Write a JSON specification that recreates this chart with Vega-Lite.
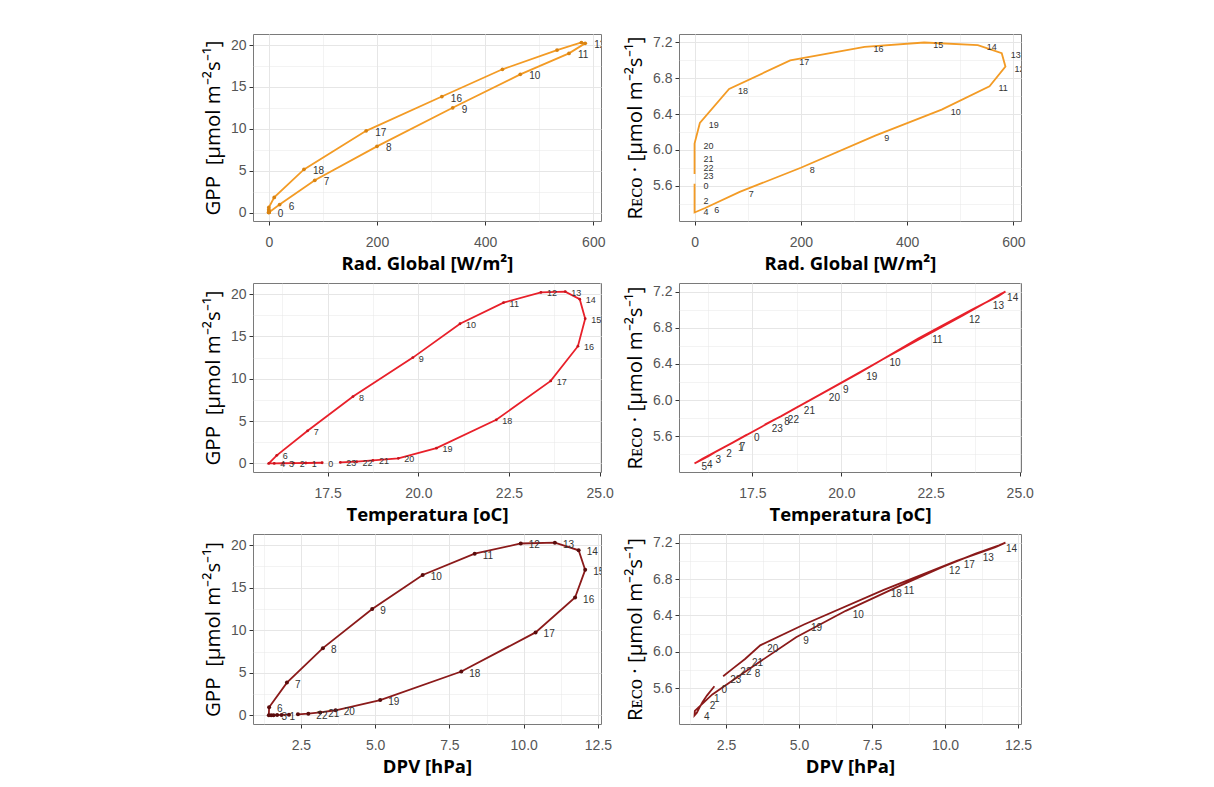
{
  "$schema": "https://vega.github.io/schema/vega-lite/v6.json",
  "padding": {"left": 202, "top": 33, "right": 5, "bottom": 5},
  "background": "white",
  "datasets": {
    "d": [
      {"hour": 0, "rad": 0, "temp": 17.35, "dpv": 2.10, "gpp": 0.08, "reco": 5.62},
      {"hour": 1, "rad": 0, "temp": 16.90, "dpv": 1.85, "gpp": 0.05, "reco": 5.52},
      {"hour": 2, "rad": 0, "temp": 16.57, "dpv": 1.70, "gpp": 0.03, "reco": 5.45},
      {"hour": 3, "rad": 0, "temp": 16.27, "dpv": 1.58, "gpp": 0.02, "reco": 5.38},
      {"hour": 4, "rad": 0, "temp": 16.03, "dpv": 1.50, "gpp": 0.00, "reco": 5.33},
      {"hour": 5, "rad": 0, "temp": 15.88, "dpv": 1.42, "gpp": 0.00, "reco": 5.30},
      {"hour": 6, "rad": 20, "temp": 16.10, "dpv": 1.43, "gpp": 0.95, "reco": 5.35},
      {"hour": 7, "rad": 85, "temp": 16.95, "dpv": 2.03, "gpp": 3.85, "reco": 5.53},
      {"hour": 8, "rad": 200, "temp": 18.20, "dpv": 3.24, "gpp": 7.90, "reco": 5.80},
      {"hour": 9, "rad": 340, "temp": 19.85, "dpv": 4.90, "gpp": 12.50, "reco": 6.16},
      {"hour": 10, "rad": 465, "temp": 21.15, "dpv": 6.60, "gpp": 16.50, "reco": 6.45},
      {"hour": 11, "rad": 555, "temp": 22.35, "dpv": 8.35, "gpp": 19.00, "reco": 6.71},
      {"hour": 12, "rad": 585, "temp": 23.38, "dpv": 9.90, "gpp": 20.20, "reco": 6.93},
      {"hour": 13, "rad": 578, "temp": 24.05, "dpv": 11.05, "gpp": 20.30, "reco": 7.08},
      {"hour": 14, "rad": 533, "temp": 24.45, "dpv": 11.85, "gpp": 19.40, "reco": 7.17},
      {"hour": 15, "rad": 432, "temp": 24.60, "dpv": 12.07, "gpp": 17.10, "reco": 7.20},
      {"hour": 16, "rad": 320, "temp": 24.40, "dpv": 11.73, "gpp": 13.85, "reco": 7.15},
      {"hour": 17, "rad": 180, "temp": 23.65, "dpv": 10.40, "gpp": 9.75, "reco": 7.00},
      {"hour": 18, "rad": 65, "temp": 22.15, "dpv": 7.90, "gpp": 5.15, "reco": 6.68},
      {"hour": 19, "rad": 10, "temp": 20.50, "dpv": 5.17, "gpp": 1.80, "reco": 6.30},
      {"hour": 20, "rad": 0, "temp": 19.45, "dpv": 3.67, "gpp": 0.60, "reco": 6.07},
      {"hour": 21, "rad": 0, "temp": 18.75, "dpv": 3.15, "gpp": 0.35, "reco": 5.92},
      {"hour": 22, "rad": 0, "temp": 18.30, "dpv": 2.75, "gpp": 0.20, "reco": 5.82},
      {"hour": 23, "rad": 0, "temp": 17.85, "dpv": 2.40, "gpp": 0.12, "reco": 5.73}
    ]
  },
  "data": {"name": "d"},
  "columns": 2,
  "align": "each",
  "bounds": "flush",
  "spacing": {"row": 62, "column": 78},
  "concat": [
    {
      "width": 348, "height": 187,
      "encoding": {
        "x": {"field": "rad", "type": "quantitative", "scale": {"domain": [-29.25, 614.25], "nice": false, "zero": false},
          "axis": {"title": "Rad. Global [W/m²]", "values": [0, 100, 200, 300, 400, 500, 600],
            "labelExpr": "datum.value % 200 == 0 ? datum.label : ''",
            "tickOpacity": {"condition": {"test": "datum.value % 200 != 0", "value": 0}, "value": 1},
            "gridWidth": {"condition": {"test": "datum.value % 200 != 0", "value": 0.5}, "value": 1}}},
        "y": {"field": "gpp", "type": "quantitative", "scale": {"domain": [-1.015, 21.315], "nice": false, "zero": false},
          "axis": {"title": "GPP\u00a0\u00a0[μmol m⁻²s⁻¹]", "values": [0, 2.5, 5, 7.5, 10, 12.5, 15, 17.5, 20],
            "labelExpr": "datum.value % 5 == 0 ? datum.label : ''",
            "tickOpacity": {"condition": {"test": "datum.value % 5 != 0", "value": 0}, "value": 1},
            "gridWidth": {"condition": {"test": "datum.value % 5 != 0", "value": 0.5}, "value": 1}}}
      },
      "layer": [
        {"mark": {"type": "line", "color": "#F39B25", "strokeWidth": 1.8, "clip": true}, "encoding": {"order": {"field": "hour"}}},
        {"mark": {"type": "circle", "color": "#D98311", "size": 14, "opacity": 1}, "encoding": {}},
        {"transform": [{"filter": {"field": "hour", "oneOf": [0, 6, 7, 8, 9, 10, 11, 12, 16, 17, 18]}}],
          "mark": {"type": "text", "align": "left", "baseline": "middle", "dx": 9, "dy": 2, "fontSize": 10, "font": "Liberation Sans", "color": "#333333", "clip": true},
          "encoding": {"text": {"field": "hour"}}}
      ]
    },
    {
      "width": 342, "height": 187,
      "encoding": {
        "x": {"field": "rad", "type": "quantitative", "scale": {"domain": [-29.25, 614.25], "nice": false, "zero": false},
          "axis": {"title": "Rad. Global [W/m²]", "values": [0, 100, 200, 300, 400, 500, 600],
            "labelExpr": "datum.value % 200 == 0 ? datum.label : ''",
            "tickOpacity": {"condition": {"test": "datum.value % 200 != 0", "value": 0}, "value": 1},
            "gridWidth": {"condition": {"test": "datum.value % 200 != 0", "value": 0.5}, "value": 1}}},
        "y": {"field": "reco", "type": "quantitative", "scale": {"domain": [5.205, 7.295], "nice": false, "zero": false},
          "axis": {"title": "Rᴇᴄᴏ · [μmol m⁻²s⁻¹]", "format": ".1f", "values": [5.4, 5.6, 5.8, 6.0, 6.2, 6.4, 6.6, 6.8, 7.0, 7.2],
            "labelExpr": "indexof([5.4, 5.8, 6.2, 6.6, 7], datum.value) >= 0 ? '' : datum.label",
            "tickOpacity": {"condition": {"test": "indexof([5.4, 5.8, 6.2, 6.6, 7], datum.value) >= 0", "value": 0}, "value": 1},
            "gridWidth": {"condition": {"test": "indexof([5.4, 5.8, 6.2, 6.6, 7], datum.value) >= 0", "value": 0.5}, "value": 1}}}
      },
      "layer": [
        {"mark": {"type": "line", "color": "#F39B25", "strokeWidth": 1.8, "clip": true}, "encoding": {"order": {"field": "hour"}}},
        {"transform": [{"filter": {"field": "hour", "oneOf": [0, 2, 4, 6, 7, 8, 9, 10, 11, 12, 13, 14, 15, 16, 17, 18, 19, 20, 21, 22, 23]}}],
          "mark": {"type": "text", "align": "left", "baseline": "middle", "dx": 9, "dy": 2, "fontSize": 9, "font": "Liberation Sans", "color": "#333333", "clip": true},
          "encoding": {"text": {"field": "hour"}}}
      ]
    },
    {
      "width": 348, "height": 189,
      "encoding": {
        "x": {"field": "temp", "type": "quantitative", "scale": {"domain": [15.444, 25.036], "nice": false, "zero": false},
          "axis": {"title": "Temperatura [oC]", "format": ".1f", "values": [16.25, 17.5, 18.75, 20, 21.25, 22.5, 23.75, 25],
            "labelExpr": "datum.value % 2.5 == 0 ? datum.label : ''",
            "tickOpacity": {"condition": {"test": "datum.value % 2.5 != 0", "value": 0}, "value": 1},
            "gridWidth": {"condition": {"test": "datum.value % 2.5 != 0", "value": 0.5}, "value": 1}}},
        "y": {"field": "gpp", "type": "quantitative", "scale": {"domain": [-1.015, 21.315], "nice": false, "zero": false},
          "axis": {"title": "GPP\u00a0\u00a0[μmol m⁻²s⁻¹]", "values": [0, 2.5, 5, 7.5, 10, 12.5, 15, 17.5, 20],
            "labelExpr": "datum.value % 5 == 0 ? datum.label : ''",
            "tickOpacity": {"condition": {"test": "datum.value % 5 != 0", "value": 0}, "value": 1},
            "gridWidth": {"condition": {"test": "datum.value % 5 != 0", "value": 0.5}, "value": 1}}}
      },
      "layer": [
        {"mark": {"type": "line", "color": "#E8202A", "strokeWidth": 1.8, "clip": true}, "encoding": {"order": {"field": "hour"}}},
        {"mark": {"type": "circle", "color": "#C8141C", "size": 8, "opacity": 1}, "encoding": {}},
        {"transform": [{"filter": {"field": "hour", "oneOf": [0, 1, 2, 3, 4, 6, 7, 8, 9, 10, 11, 12, 13, 14, 15, 16, 17, 18, 19, 20, 21, 22, 23]}}],
          "mark": {"type": "text", "align": "left", "baseline": "middle", "dx": 6, "dy": 1, "fontSize": 9, "font": "Liberation Sans", "color": "#333333", "clip": true},
          "encoding": {"text": {"field": "hour"}}}
      ]
    },
    {
      "width": 342, "height": 189,
      "encoding": {
        "x": {"field": "temp", "type": "quantitative", "scale": {"domain": [15.444, 25.036], "nice": false, "zero": false},
          "axis": {"title": "Temperatura [oC]", "format": ".1f", "values": [16.25, 17.5, 18.75, 20, 21.25, 22.5, 23.75, 25],
            "labelExpr": "datum.value % 2.5 == 0 ? datum.label : ''",
            "tickOpacity": {"condition": {"test": "datum.value % 2.5 != 0", "value": 0}, "value": 1},
            "gridWidth": {"condition": {"test": "datum.value % 2.5 != 0", "value": 0.5}, "value": 1}}},
        "y": {"field": "reco", "type": "quantitative", "scale": {"domain": [5.205, 7.295], "nice": false, "zero": false},
          "axis": {"title": "Rᴇᴄᴏ · [μmol m⁻²s⁻¹]", "format": ".1f", "values": [5.4, 5.6, 5.8, 6.0, 6.2, 6.4, 6.6, 6.8, 7.0, 7.2],
            "labelExpr": "indexof([5.4, 5.8, 6.2, 6.6, 7], datum.value) >= 0 ? '' : datum.label",
            "tickOpacity": {"condition": {"test": "indexof([5.4, 5.8, 6.2, 6.6, 7], datum.value) >= 0", "value": 0}, "value": 1},
            "gridWidth": {"condition": {"test": "indexof([5.4, 5.8, 6.2, 6.6, 7], datum.value) >= 0", "value": 0.5}, "value": 1}}}
      },
      "layer": [
        {"mark": {"type": "line", "color": "#E8202A", "strokeWidth": 1.8, "clip": true}, "encoding": {"order": {"field": "hour"}}},
        {"transform": [{"filter": {"field": "hour", "oneOf": [0, 1, 2, 3, 4, 5, 7, 8, 9, 10, 11, 12, 13, 14, 19, 20, 21, 22, 23]}}],
          "mark": {"type": "text", "align": "left", "baseline": "middle", "dx": 7, "dy": 4, "fontSize": 10, "font": "Liberation Sans", "color": "#333333", "clip": true},
          "encoding": {"text": {"field": "hour"}}}
      ]
    },
    {
      "width": 348, "height": 190,
      "encoding": {
        "x": {"field": "dpv", "type": "quantitative", "scale": {"domain": [0.8875, 12.6025], "nice": false, "zero": false},
          "axis": {"title": "DPV [hPa]", "format": ".1f", "values": [1.25, 2.5, 3.75, 5, 6.25, 7.5, 8.75, 10, 11.25, 12.5],
            "labelExpr": "datum.value % 2.5 == 0 ? datum.label : ''",
            "tickOpacity": {"condition": {"test": "datum.value % 2.5 != 0", "value": 0}, "value": 1},
            "gridWidth": {"condition": {"test": "datum.value % 2.5 != 0", "value": 0.5}, "value": 1}}},
        "y": {"field": "gpp", "type": "quantitative", "scale": {"domain": [-1.015, 21.315], "nice": false, "zero": false},
          "axis": {"title": "GPP\u00a0\u00a0[μmol m⁻²s⁻¹]", "values": [0, 2.5, 5, 7.5, 10, 12.5, 15, 17.5, 20],
            "labelExpr": "datum.value % 5 == 0 ? datum.label : ''",
            "tickOpacity": {"condition": {"test": "datum.value % 5 != 0", "value": 0}, "value": 1},
            "gridWidth": {"condition": {"test": "datum.value % 5 != 0", "value": 0.5}, "value": 1}}}
      },
      "layer": [
        {"mark": {"type": "line", "color": "#8B1A1A", "strokeWidth": 1.8, "clip": true}, "encoding": {"order": {"field": "hour"}}},
        {"mark": {"type": "circle", "color": "#5A0C0C", "size": 16, "opacity": 1}, "encoding": {}},
        {"transform": [{"filter": {"field": "hour", "oneOf": [1, 3, 6, 7, 8, 9, 10, 11, 12, 13, 14, 15, 16, 17, 18, 19, 20, 21, 22]}}],
          "mark": {"type": "text", "align": "left", "baseline": "middle", "dx": 8, "dy": 2, "fontSize": 10, "font": "Liberation Sans", "color": "#333333", "clip": true},
          "encoding": {"text": {"field": "hour"}}}
      ]
    },
    {
      "width": 342, "height": 190,
      "encoding": {
        "x": {"field": "dpv", "type": "quantitative", "scale": {"domain": [0.8875, 12.6025], "nice": false, "zero": false},
          "axis": {"title": "DPV [hPa]", "format": ".1f", "values": [1.25, 2.5, 3.75, 5, 6.25, 7.5, 8.75, 10, 11.25, 12.5],
            "labelExpr": "datum.value % 2.5 == 0 ? datum.label : ''",
            "tickOpacity": {"condition": {"test": "datum.value % 2.5 != 0", "value": 0}, "value": 1},
            "gridWidth": {"condition": {"test": "datum.value % 2.5 != 0", "value": 0.5}, "value": 1}}},
        "y": {"field": "reco", "type": "quantitative", "scale": {"domain": [5.205, 7.295], "nice": false, "zero": false},
          "axis": {"title": "Rᴇᴄᴏ · [μmol m⁻²s⁻¹]", "format": ".1f", "values": [5.4, 5.6, 5.8, 6.0, 6.2, 6.4, 6.6, 6.8, 7.0, 7.2],
            "labelExpr": "indexof([5.4, 5.8, 6.2, 6.6, 7], datum.value) >= 0 ? '' : datum.label",
            "tickOpacity": {"condition": {"test": "indexof([5.4, 5.8, 6.2, 6.6, 7], datum.value) >= 0", "value": 0}, "value": 1},
            "gridWidth": {"condition": {"test": "indexof([5.4, 5.8, 6.2, 6.6, 7], datum.value) >= 0", "value": 0.5}, "value": 1}}}
      },
      "layer": [
        {"mark": {"type": "line", "color": "#8B1A1A", "strokeWidth": 1.8, "clip": true}, "encoding": {"order": {"field": "hour"}}},
        {"transform": [{"filter": {"field": "hour", "oneOf": [0, 1, 2, 4, 8, 9, 10, 11, 12, 13, 14, 17, 18, 19, 20, 21, 22, 23]}}],
          "mark": {"type": "text", "align": "left", "baseline": "middle", "dx": 7, "dy": 4, "fontSize": 10, "font": "Liberation Sans", "color": "#333333", "clip": true},
          "encoding": {"text": {"field": "hour"}}}
      ]
    }
  ],
  "config": {
    "view": {"stroke": "#7a7a7a", "strokeWidth": 1},
    "axis": {"domain": false, "grid": true, "gridColor": "#e6e6e6", "tickColor": "#333333", "tickSize": 4,
      "labelFont": "Liberation Sans", "labelFontSize": 14, "labelColor": "#555555",
      "titleFont": "Open Sans", "titleColor": "#000000", "labelPadding": 3},
    "axisX": {"titleFontSize": 18.5, "titleFontWeight": "bold", "labelPadding": 10, "titlePadding": 5},
    "axisY": {"titleFontSize": 20.5, "titleFontWeight": "normal", "titlePadding": 7}
  }
}
